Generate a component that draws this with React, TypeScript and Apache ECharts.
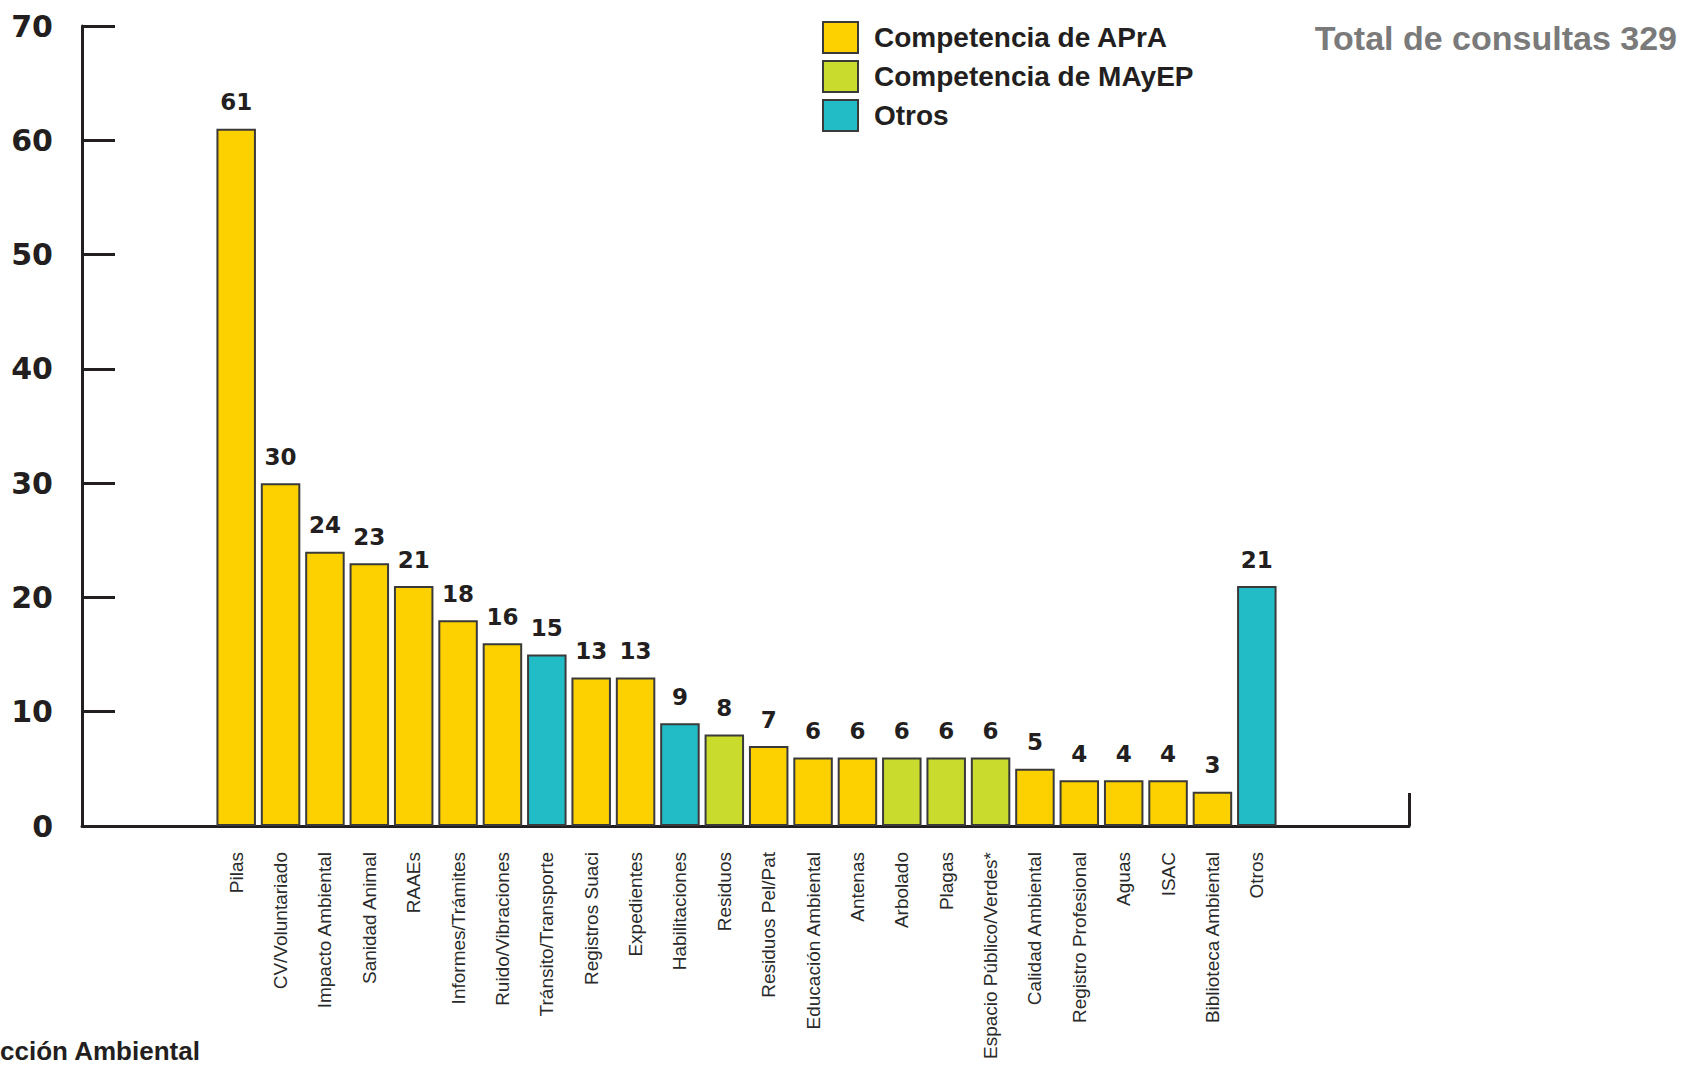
import React, { useEffect, useRef } from "react";
import * as echarts from "echarts";

const categories = [
  "Pilas", "CV/Voluntariado", "Impacto Ambiental", "Sanidad Animal", "RAAEs",
  "Informes/Trámites", "Ruido/Vibraciones", "Tránsito/Transporte", "Registros Suaci",
  "Expedientes", "Habilitaciones", "Residuos", "Residuos Pel/Pat", "Educación Ambiental",
  "Antenas", "Arbolado", "Plagas", "Espacio Público/Verdes*", "Calidad Ambiental",
  "Registro Profesional", "Aguas", "ISAC", "Biblioteca Ambiental", "Otros",
];
const values = [61, 30, 24, 23, 21, 18, 16, 15, 13, 13, 9, 8, 7, 6, 6, 6, 6, 6, 5, 4, 4, 4, 3, 21];
// 0 = APrA, 1 = MAyEP, 2 = Otros
const groups = [0, 0, 0, 0, 0, 0, 0, 2, 0, 0, 2, 1, 0, 0, 0, 1, 1, 1, 0, 0, 0, 0, 0, 2];
const seriesNames = ["Competencia de APrA", "Competencia de MAyEP", "Otros"];
const seriesColors = ["#FDD100", "#C9DB2C", "#22BCC6"];
const yTicks = [0, 10, 20, 30, 40, 50, 60, 70];
const totalLabel = "Total de consultas 329";
const sourceLabel = "cción Ambiental";

const FONT = "'Liberation Sans', Arial, Helvetica, sans-serif";
const NUMFONT = "'DejaVu Sans', 'Liberation Sans', Arial, sans-serif";
const INK = "#231f20";

export default function App() {
  const ref = useRef<HTMLDivElement>(null);
  useEffect(() => {
    document.body.style.margin = "0";
    if (!ref.current) return;
    const chart = echarts.init(ref.current, null, { renderer: "svg" });
    const series = seriesNames.map((name, g) => ({
      name,
      type: "bar",
      stack: "all",
      xAxisIndex: 1,
      yAxisIndex: 1,
      barCategoryGap: "11%",
      itemStyle: { color: seriesColors[g], borderColor: "#3a3a3a", borderWidth: 2 },
      label: {
        show: true,
        position: "top",
        distance: 15,
        fontFamily: NUMFONT,
        fontWeight: "bold",
        fontSize: 23,
        color: INK,
      },
      data: values.map((v, i) => (groups[i] === g ? v : "-")),
    }));
    chart.setOption({
      animation: false,
      textStyle: { fontFamily: FONT },
      legend: {
        orient: "vertical",
        left: 822,
        top: 16,
        padding: 0,
        icon: "rect",
        itemWidth: 35,
        itemHeight: 31,
        itemGap: -4,
        selectedMode: false,
        data: seriesNames,
        textStyle: {
          fontFamily: FONT,
          fontWeight: "bold",
          fontSize: 28,
          lineHeight: 31,
          color: INK,
          padding: [12, 0, 0, 11],
        },
      },
      graphic: [
        {
          type: "text",
          right: 4,
          top: 21,
          style: {
            text: totalLabel,
            fontFamily: FONT,
            fontWeight: "bold",
            fontSize: 34,
            fill: "#7a7a7a",
          },
        },
        {
          type: "text",
          left: 0,
          top: 1038,
          style: {
            text: sourceLabel,
            fontFamily: FONT,
            fontWeight: "bold",
            fontSize: 26,
            fill: INK,
          },
        },
      ],
      grid: [
        { left: 82, right: 272, top: 26, bottom: 239 },
        { left: 214, right: 402, top: 26, bottom: 239 },
      ],
      xAxis: [
        {
          type: "value",
          gridIndex: 0,
          min: 0,
          max: 1,
          interval: 1,
          axisLine: { show: true, lineStyle: { color: INK, width: 3 } },
          axisTick: { show: true, inside: true, length: 33, lineStyle: { color: INK, width: 3 } },
          axisLabel: { show: false },
          splitLine: { show: false },
        },
        {
          type: "category",
          gridIndex: 1,
          data: categories,
          axisLine: { show: false },
          axisTick: { show: false },
          axisLabel: {
            rotate: 90,
            interval: 0,
            margin: 26,
            fontFamily: FONT,
            fontSize: 19,
            color: "#2a2a2a",
          },
        },
      ],
      yAxis: [
        {
          type: "value",
          gridIndex: 0,
          min: yTicks[0],
          max: yTicks[yTicks.length - 1],
          interval: 10,
          axisLine: { show: true, lineStyle: { color: INK, width: 3 } },
          axisTick: { show: true, inside: true, length: 33, lineStyle: { color: INK, width: 3 } },
          axisLabel: {
            margin: 29,
            fontFamily: NUMFONT,
            fontWeight: "bold",
            fontSize: 30,
            color: INK,
          },
          splitLine: { show: false },
        },
        {
          type: "value",
          gridIndex: 1,
          min: yTicks[0],
          max: yTicks[yTicks.length - 1],
          show: false,
          splitLine: { show: false },
        },
      ],
      series,
    });
    return () => chart.dispose();
  }, []);
  return <div ref={ref} style={{ width: 1681, height: 1065 }} />;
}
